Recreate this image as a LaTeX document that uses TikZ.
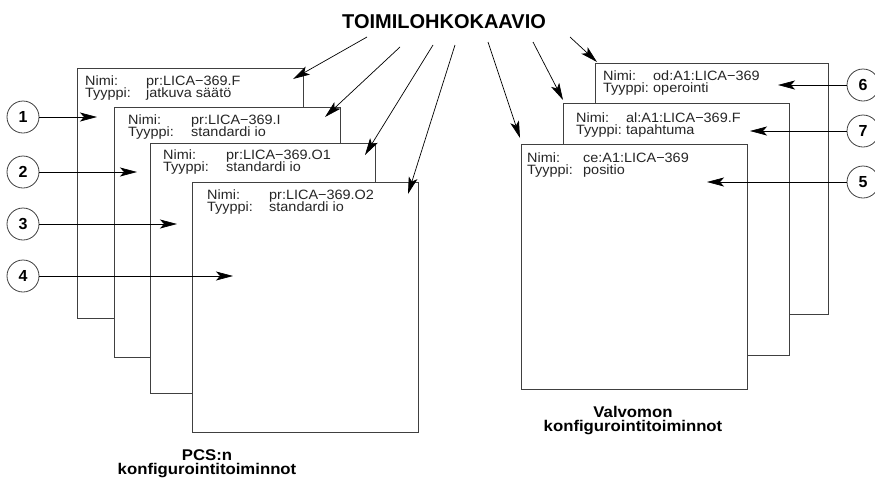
\documentclass[tikz,border=0pt]{standalone}
\usepackage{fontspec}
\setmainfont{Liberation Sans}
\newfontfamily\sheetfont[FakeStretch=1.07]{Liberation Sans}
\newfontfamily\capfont[FakeStretch=1.08]{Liberation Sans}
\usetikzlibrary{arrows.meta,calc}
\begin{document}
\begin{tikzpicture}[x=1pt,y=-1pt,
  sheet/.style={draw=black!75,line width=1pt,fill=white,anchor=north west,inner sep=0pt,outer sep=0pt},
  info/.style={anchor=base west,inner sep=0pt,font=\sheetfont\fontsize{13.5}{13}\selectfont,text=black!85},
  num/.style={circle,draw=black!75,line width=0.8pt,fill=white,minimum size=32pt,inner sep=0pt,font=\fontsize{16}{16}\selectfont\bfseries},
  link/.style={line width=0.7pt,-{Stealth[length=17pt,width=9pt,inset=4pt]}},
  caption/.style={align=center,inner sep=0pt,font=\capfont\fontsize{15.5}{14}\selectfont\bfseries}
]
\useasboundingbox (0,0) rectangle (875,480);

% PCS function block sheets, back to front
\node[sheet,minimum width=226pt,minimum height=250pt] (pA) at (77,68) {};
\node[info] (pAn1) at (85,85) {Nimi:};
\node[info] (pAv1) at (146,85) {pr:LICA−369.F};
\node[info] (pAn2) at (85,97.5) {Tyyppi:};
\node[info] (pAv2) at (146,97.5) {jatkuva säätö};

\node[sheet,minimum width=226pt,minimum height=250pt] (pB) at (114,107) {};
\node[info] (pBn1) at (128,124) {Nimi:};
\node[info] (pBv1) at (191,124) {pr:LICA−369.I};
\node[info] (pBn2) at (128,136.5) {Tyyppi:};
\node[info] (pBv2) at (191,136.5) {standardi io};

\node[sheet,minimum width=225pt,minimum height=250pt] (pC) at (150,143) {};
\node[info] (pCn1) at (163,159) {Nimi:};
\node[info] (pCv1) at (226,159) {pr:LICA−369.O1};
\node[info] (pCn2) at (163,171) {Tyyppi:};
\node[info] (pCv2) at (226,171) {standardi io};

\node[sheet,minimum width=226pt,minimum height=250pt] (pD) at (192,182) {};
\node[info] (pDn1) at (207,199) {Nimi:};
\node[info] (pDv1) at (269,199) {pr:LICA−369.O2};
\node[info] (pDn2) at (207,211.5) {Tyyppi:};
\node[info] (pDv2) at (269,211.5) {standardi io};

% control room sheets, back to front
\node[sheet,minimum width=233pt,minimum height=251pt] (vF) at (595,63) {};
\node[info] (vFn1) at (603,80) {Nimi:};
\node[info] (vFv1) at (653,80) {od:A1:LICA−369};
\node[info] (vFn2) at (603,92.5) {Tyyppi:};
\node[info] (vFv2) at (653,92.5) {operointi};

\node[sheet,minimum width=226pt,minimum height=252pt] (vE) at (563,103) {};
\node[info] (vEn1) at (576,122) {Nimi:};
\node[info] (vEv1) at (626,122) {al:A1:LICA−369.F};
\node[info] (vEn2) at (576,134.5) {Tyyppi:};
\node[info] (vEv2) at (626,134.5) {tapahtuma};

\node[sheet,minimum width=226pt,minimum height=245pt] (vD) at (521,144) {};
\node[info] (vDn1) at (527,162) {Nimi:};
\node[info] (vDv1) at (583,162) {ce:A1:LICA−369};
\node[info] (vDn2) at (527,174.5) {Tyyppi:};
\node[info] (vDv2) at (583,174.5) {positio};

% title and captions
\node[anchor=base,inner sep=0pt,font=\fontsize{20}{20}\selectfont\bfseries] (title) at (444,28) {TOIMILOHKOKAAVIO};
\node[caption,anchor=base] (capL) at (207,474) {PCS:n\\konfigurointitoiminnot};
\node[caption,anchor=base] (capR) at (633,431) {Valvomon\\konfigurointitoiminnot};

% arrow start points under the title and their targets
\coordinate (sA) at (367,37);  \coordinate (tA) at (293,79);
\coordinate (sB) at (400,47);  \coordinate (tB) at (325,117);
\coordinate (sC) at (433,45);  \coordinate (tC) at (365,155);
\coordinate (sD) at (455,45);  \coordinate (tD) at (408,194);
\coordinate (s5) at (488,42);  \coordinate (t5) at (520,138);
\coordinate (s7) at (533,42);  \coordinate (t7) at (563,100);
\coordinate (s6) at (570,37);  \coordinate (t6) at (597,62);
\foreach \k in {A,B,C,D,5,7,6} \draw[link] (s\k) -- (t\k);

% numbered callouts
\node[num] (c1) at (23,117) {1};
\node[num] (c2) at (23,172) {2};
\node[num] (c3) at (23,224) {3};
\node[num] (c4) at (23,276) {4};
\node[num] (c6) at (863,85) {6};
\node[num] (c7) at (863,131) {7};
\node[num] (c5) at (863,182) {5};
\coordinate (e1) at (97,117);
\coordinate (e2) at (137,172);
\coordinate (e3) at (177,224);
\coordinate (e4) at (233,276);
\coordinate (e6) at (778,85);
\coordinate (e7) at (750,131);
\coordinate (e5) at (707,182);
\foreach \k in {1,2,3,4,6,7,5} \draw[link] (c\k) -- (e\k);
\end{tikzpicture}
\end{document}
